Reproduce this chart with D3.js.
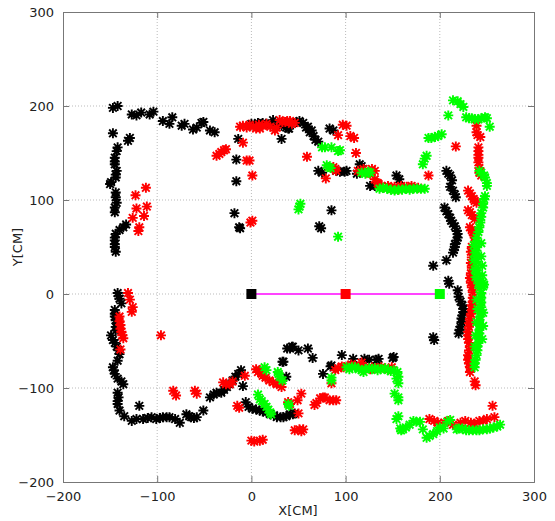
<!DOCTYPE html>
<html><head><meta charset="utf-8">
<script src="https://cdn.jsdelivr.net/npm/d3@7"></script>
<style>body{margin:0;background:#fff}svg{display:block}</style>
</head><body>
<svg id="c" width="555" height="521"></svg>
<script>
const xTicks = [-200,-100,0,100,200,300];
const yTicks = [-200,-100,0,100,200,300];

const blackPts = [
[-147,198],[-142,200],[-147,171],[-131,163],[-129,166],[-142,156],[-143,152],[-145,145],[-145,141],[-145,138],[-143,131],[-144,127],[-144,124],[-149,119],[-150,117],[-144,108],[-144,103],[-143,97],[-145,92],[-145,87],[-133,74],[-136,71],[-140,68],[-144,64],[-145,60],[-145,57],[-145,53],[-145,50],[-144,45],
[-127,191],[-122,190],[-117,193],[-108,191],[-104,194],[-94,184],[-87,181],[-84,188],[-74,179],[-71,181],[-62,175],[-58,177],[-53,182],[-51,183],[-44,174],[-39,172],
[-18,86],[-16,143],[-16,120],[-14,165],[-13,71],[-12,70],
[0,181],[4,180],[7,182],[12,182],[16,181],[21,181],[23,185],[28,181],[32,179],[37,177],[40,176],[43,181],[48,183],[51,184],[55,182],[58,177],[60,178],[62,172],[64,174],[66,168],[68,164],[71,162],[83,176],[87,174],[32,165],[39,176],
[71,131],[75,129],[90,131],[94,130],[99,130],[101,131],[115,138],[117,136],[112,128],[126,115],[131,115],[154,126],[157,122],[85,89],[72,72],[74,70],
[207,131],[209,128],[211,126],[213,121],[211,114],[214,110],[216,106],[217,103],[205,92],[207,88],[209,85],[211,81],[212,78],[214,75],[216,72],[218,67],[219,64],[219,60],[218,57],[216,53],[216,50],[215,47],[214,44],[207,36],[193,30],[209,14],[210,11],[219,4],[220,-3],[222,-8],[224,-12],[225,-16],[225,-19],[224,-23],[223,-26],[223,-30],[222,-35],[221,-38],[220,-42],[193,-46],[194,-49],
[38,-58],[41,-58],[43,-56],[44,-56],[50,-60],[60,-58],[65,-68],[33,-72],[34,-72],[37,-88],[76,-85],[85,-76],[84,-77],[96,-65],[108,-69],[120,-69],[125,-70],[133,-70],[135,-69],[150,-68],[151,-67],
[1,-122],[5,-123],[9,-124],[12,-125],[16,-126],[20,-128],[24,-129],[27,-131],[31,-131],[34,-131],[37,-130],[41,-128],[44,-128],[46,-127],[-3,-120],[-6,-115],[-9,-98],
[-142,1],[-141,-2],[-140,-5],[-138,-10],[-145,-17],[-145,-21],[-145,-24],[-144,-28],[-143,-31],[-144,-35],[-144,-39],[-149,-44],[-147,-49],[-145,-52],[-143,-56],[-141,-60],[-140,-64],[-142,-71],[-147,-78],[-146,-81],[-145,-85],[-142,-90],[-138,-93],[-136,-96],[-142,-105],[-141,-110],[-142,-114],[-142,-117],[-140,-124],[-135,-130],[-127,-135],[-122,-133],[-115,-133],[-110,-132],[-106,-131],[-101,-133],[-97,-132],[-94,-131],[-90,-131],[-87,-131],[-81,-133],[-76,-137],[-69,-128],[-66,-130],[-64,-131],[-61,-132],[-58,-131],[-51,-124],[-119,-119],[-44,-110],[-40,-107],[-37,-105],[-32,-105],[-29,-102],[-26,-99],[-23,-96],[-20,-92],[-17,-88],[-14,-85],[-11,-81]
];

const redPts = [
[-123,105],[-112,113],[-122,91],[-111,93],[-126,81],[-114,83],[-119,71],[-120,67],
[-37,147],[-34,149],[-32,151],[-29,153],[-27,154],[-9,161],[-5,142],[-2,142],[1,126],[-1,76],[1,78],
[-12,178],[-9,179],[-5,177],[-2,180],[2,178],[5,176],[9,176],[12,179],[16,181],[20,178],[25,174],[27,177],[30,185],[33,183],[36,183],[38,184],[41,184],[43,181],[46,182],[8,180],
[97,180],[101,179],[92,169],[105,168],[109,166],[111,150],[59,146],[79,123],[82,135],[87,135],[89,133],[90,131],[113,131],[116,130],[119,133],[121,131],[126,128],[128,133],[131,131],[131,122],[134,118],[135,117],[138,115],[140,113],[145,115],[147,113],[152,114],[156,111],[159,115],[165,114],[170,115],[172,113],[177,113],[188,126],[217,157],
[239,179],[239,172],[240,169],[243,167],[241,156],[241,152],[241,148],[241,145],[241,140],[242,134],[242,129],[244,126],[230,110],[232,107],[234,104],[236,101],[237,99],[239,97],[230,89],[232,87],[234,84],[237,80],[232,71],[234,68],[235,66],[237,62],[237,60],[234,50],[233,45],[234,39],[233,33],[234,28],[233,22],[232,17],[233,12],[234,7],[235,2],[235,-4],[235,-8],[234,-12],[234,-17],[233,-21],[232,-26],[231,-31],[231,-35],[230,-40],[230,-44],[230,-48],[231,-52],[232,-56],[231,-60],[230,-65],[230,-70],[231,-74],[232,-78],[232,-83],[237,-93],[238,-97],
[256,-119],[258,-131],[250,-133],[246,-135],[242,-135],[237,-138],[233,-137],[227,-135],[222,-137],[214,-139],[209,-135],[205,-137],[198,-137],[194,-135],[189,-133],
[29,-95],[39,-115],[41,-117],[50,-127],[53,-106],[46,-145],[51,-144],[53,-146],[55,-144],[67,-118],[69,-116],[73,-111],[76,-110],[78,-110],[83,-113],[87,-113],[90,-113],[85,-95],[89,-81],[92,-79],[96,-77],[98,-78],[102,-77],[106,-75],[110,-76],[115,-78],[117,-73],[121,-78],[126,-80],[128,-78],[133,-79],[138,-78],[142,-79],[146,-80],[149,-78],
[9,-81],[11,-85],[12,-87],[15,-89],[19,-92],[23,-94],[27,-96],[32,-99],[49,-113],
[-131,1],[-129,-6],[-126,-14],[-127,-19],[-140,-24],[-140,-29],[-139,-33],[-139,-37],[-138,-40],[-137,-44],[-136,-47],[-139,-59],[-96,-44],[-83,-103],[-80,-108],[-60,-103],[-58,-106],[-30,-94],[-27,-96],[-23,-96],[-20,-93],[-7,-87],[-13,-121],[-15,-119],[0,-156],[3,-157],[9,-156],[12,-155],[5,-80],[7,-83]
];

const greenPts = [
[214,206],[219,205],[222,202],[225,199],[209,190],[228,188],[231,187],[234,187],[237,186],[241,186],[244,187],[248,188],[250,187],[253,178],
[188,166],[191,166],[195,167],[198,168],[202,170],[186,147],[184,144],[182,138],
[75,156],[78,156],[85,156],[92,152],[94,153],[80,137],[82,135],[84,134],[117,129],[121,128],[124,130],[126,129],
[136,112],[140,113],[144,112],[148,111],[152,110],[156,111],[160,111],[164,112],[168,111],[172,112],[176,112],[180,112],[184,112],
[50,90],[51,93],[52,96],[92,61],
[242,131],[244,129],[247,126],[248,124],[250,118],[250,115],[248,104],[247,101],[246,96],[246,92],[244,86],[244,82],[243,76],[242,71],[241,66],[239,60],[239,56],[239,50],[239,46],[239,40],[239,34],[239,28],[240,22],[240,16],[241,11],[246,8],[247,10],[242,6],[244,1],[244,-4],[244,-9],[244,-14],[243,-19],[243,-24],[242,-28],[242,-33],[242,-38],[242,-42],[241,-47],[241,-52],[240,-56],[240,-60],[239,-65],[238,-70],[237,-74],[237,-78],
[236,52],[237,44],[236,36],[237,26],[238,18],[244,54],[244,40],[245,30],[245,20],[246,12],[239,-6],[240,-16],[239,-30],[238,-44],[237,-56],[246,-20],[246,-34],[245,-48],
[264,-139],[261,-141],[257,-142],[253,-143],[250,-144],[246,-144],[242,-145],[239,-145],[235,-145],[231,-145],[228,-145],[224,-143],[220,-143],[218,-144],[211,-134],[208,-136],[204,-143],[200,-142],[197,-146],[193,-149],[189,-151],[186,-153],[182,-144],[179,-136],[175,-136],[172,-135],[168,-139],[164,-142],[161,-144],[159,-145],[158,-143],[154,-133],[156,-130],
[155,-83],[156,-88],[156,-95],[152,-106],[156,-110],[156,-113],
[101,-78],[104,-80],[107,-78],[110,-78],[114,-80],[117,-81],[119,-83],[121,-80],[125,-79],[128,-80],[131,-79],[134,-81],[137,-80],[142,-79],[145,-81],[148,-82],[151,-81],[154,-90],
[85,-89],[85,-92],[39,-117],[40,-119],[29,-85],[28,-83],[30,-88],[33,-92],[14,-78],[16,-81],[7,-107],[9,-112],[11,-114],[14,-117],[16,-120],[18,-123],[20,-126],[21,-128]
];

const pathX = [0,100,200];
const pathY = [0,0,0];
const pathColors = ["#000000","#ff0000","#00ff00"];

const svg = d3.select("#c");
const x = d3.scaleLinear().domain([-200,300]).range([63,534]);
const y = d3.scaleLinear().domain([-200,300]).range([482,12]);

// grid
const g = svg.append("g");
g.selectAll("line.gx").data(xTicks.slice(1,-1)).join("line")
 .attr("x1",d=>x(d)).attr("x2",d=>x(d)).attr("y1",y(-200)).attr("y2",y(300))
 .attr("stroke","#bbb").attr("stroke-width",1).attr("stroke-dasharray","1,2");
g.selectAll("line.gy").data(yTicks.slice(1,-1)).join("line")
 .attr("y1",d=>y(d)).attr("y2",d=>y(d)).attr("x1",x(-200)).attr("x2",x(300))
 .attr("stroke","#bbb").attr("stroke-width",1).attr("stroke-dasharray","1,2");

// axes (ticks inward, mirrored)
const ax = svg.append("g");
ax.append("g").attr("transform",`translate(0,${y(-200)})`)
 .call(d3.axisBottom(x).tickValues(xTicks).tickSize(-6).tickPadding(10));
ax.append("g").attr("transform",`translate(0,${y(300)})`)
 .call(d3.axisTop(x).tickValues(xTicks).tickSize(-6).tickFormat(""));
ax.append("g").attr("transform",`translate(${x(-200)},0)`)
 .call(d3.axisLeft(y).tickValues(yTicks).tickSize(-6).tickPadding(9));
ax.append("g").attr("transform",`translate(${x(300)},0)`)
 .call(d3.axisRight(y).tickValues(yTicks).tickSize(-6).tickFormat(""));
ax.selectAll(".domain").attr("stroke","#777");
ax.selectAll(".tick line").attr("stroke","#777");
ax.selectAll("text").attr("font-family","'DejaVu Sans', sans-serif").attr("font-size",13).attr("fill","#222");

// star marker
const r = 5, q = 3.8;
const star = `M${-r},0L${r},0M0,${-r}L0,${r}M${-q},${-q}L${q},${q}M${-q},${q}L${q},${-q}`;
function drawSeries(pts,color){
  svg.append("g").selectAll("path").data(pts).join("path")
   .attr("transform",d=>`translate(${x(d[0])},${y(d[1])})`)
   .attr("d",star).attr("fill","none").attr("stroke",color).attr("stroke-width",1.9);
}
drawSeries(blackPts,"#000000");
drawSeries(redPts,"#ff0000");
drawSeries(greenPts,"#00ff00");

// path
const pathData = pathX.map((v,i)=>[v,pathY[i]]);
svg.append("path").datum(pathData)
 .attr("d",d3.line().x(d=>x(d[0])).y(d=>y(d[1])))
 .attr("stroke","#ff44ff").attr("stroke-width",2).attr("fill","none");
svg.append("g").selectAll("rect").data(pathData).join("rect")
 .attr("x",d=>x(d[0])-5).attr("y",d=>y(d[1])-5).attr("width",10).attr("height",10)
 .attr("fill",(d,i)=>pathColors[i]);

// labels
svg.append("text").attr("x",298).attr("y",515).attr("text-anchor","middle")
 .attr("font-family","'DejaVu Sans', sans-serif").attr("font-size",13).attr("fill","#222").text("X[CM]");
svg.append("text").attr("transform","translate(22,247) rotate(-90)").attr("text-anchor","middle")
 .attr("font-family","'DejaVu Sans', sans-serif").attr("font-size",13).attr("fill","#222").text("Y[CM]");
</script>
</body></html>
